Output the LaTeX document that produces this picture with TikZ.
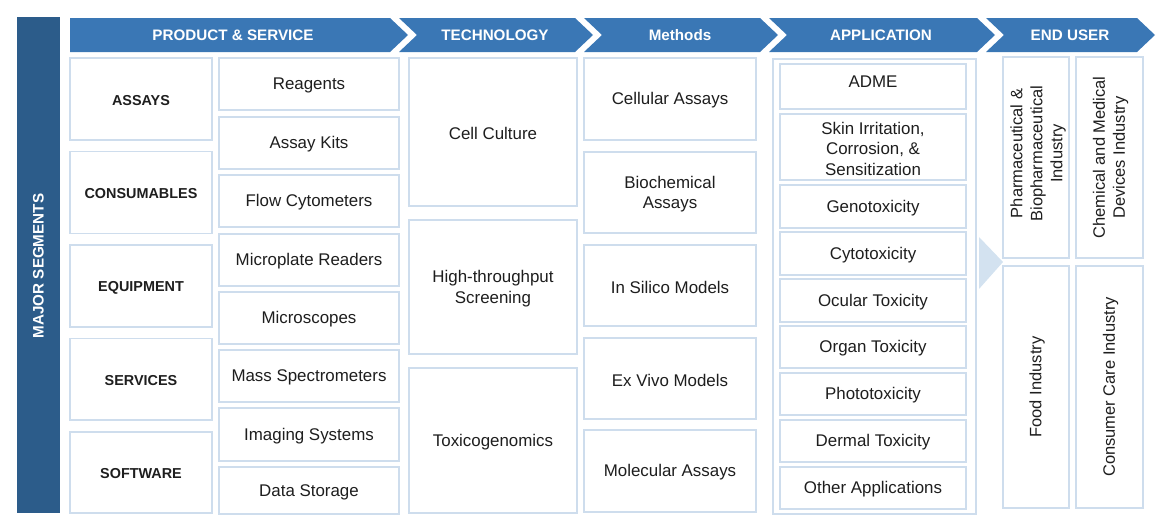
\documentclass[tikz,border=0pt]{standalone}
\usepackage{fontspec}
\setmainfont{Liberation Sans}
\definecolor{hdr}{HTML}{3A77B5}
\definecolor{bar}{HTML}{2C5C8A}
\definecolor{bord}{HTML}{CEDDED}
\definecolor{tri}{HTML}{D3E2F0}
\definecolor{txt}{HTML}{1E1E1E}
\tikzset{
  box/.style={draw=bord, line width=1.3pt, fill=white, inner sep=0pt},
  btext/.style={align=center, text=txt, font=\fontsize{16.9}{20.5}\selectfont},
  cat/.style={font=\fontsize{14.4}{17}\selectfont\bfseries},
  hlabel/.style={text=white, font=\fontsize{15.2}{18}\selectfont\bfseries},
  rlabel/.style={rotate=90, align=center, text=txt, font=\fontsize{16.5}{20}\selectfont}
}
\newcommand\mybox[7][]{%
  \pgfmathsetmacro\bw{#5-#3}\pgfmathsetmacro\bh{#6-#4}%
  \pgfmathsetmacro\cx{(#3+#5)/2}\pgfmathsetmacro\cy{(#4+#6)/2}%
  \node[box,minimum width=\bw pt,minimum height=\bh pt] (#2) at (\cx,\cy) {};
  \node[btext,#1] (#2-t) at ([yshift=-1.5pt]#2.center) {#7};}
\begin{document}
\begin{tikzpicture}[x=1pt,y=-1pt]
\useasboundingbox (0,0) rectangle (1170,530);
% left bar
\fill[bar] (17,17) rectangle (60,513);
\node[hlabel, rotate=90] (major) at (38.5,266) {MAJOR SEGMENTS};
% header chevrons
\fill[hdr] (70,18) -- (390,18) -- (408,35) -- (390,52) -- (70,52) -- cycle;
\node[hlabel] (h1) at (233,35) {PRODUCT \& SERVICE};
\fill[hdr] (399,18) -- (575,18) -- (593,35) -- (575,52) -- (399,52) -- (417,35) -- cycle;
\node[hlabel] (h2) at (495,35) {TECHNOLOGY};
\fill[hdr] (584,18) -- (760,18) -- (778,35) -- (760,52) -- (584,52) -- (602,35) -- cycle;
\node[hlabel] (h3) at (680,35) {Methods};
\fill[hdr] (769,18) -- (977,18) -- (995,35) -- (977,52) -- (769,52) -- (787,35) -- cycle;
\node[hlabel] (h4) at (881,35) {APPLICATION};
\fill[hdr] (986,18) -- (1137,18) -- (1155,35) -- (1137,52) -- (986,52) -- (1004,35) -- cycle;
\node[hlabel] (h5) at (1070,35) {END USER};
% column 1
\mybox[cat]{c1}{70}{58}{212}{140}{ASSAYS}
\mybox[cat]{c2}{70}{151.5}{212}{233.5}{CONSUMABLES}
\mybox[cat]{c3}{70}{245}{212}{327}{EQUIPMENT}
\mybox[cat]{c4}{70}{338.5}{212}{420}{SERVICES}
\mybox[cat]{c5}{70}{432}{212}{513}{SOFTWARE}
% column 2
\mybox{p1}{219}{58}{399}{110}{Reagents}
\mybox{p2}{219}{117}{399}{169}{Assay Kits}
\mybox{p3}{219}{175}{399}{227}{Flow Cytometers}
\mybox{p4}{219}{234}{399}{286}{Microplate Readers}
\mybox{p5}{219}{292}{399}{344}{Microscopes}
\mybox{p6}{219}{350}{399}{402}{Mass Spectrometers}
\mybox{p7}{219}{408}{399}{461}{Imaging Systems}
\mybox{p8}{219}{467}{399}{514}{Data Storage}
% technology
\mybox{t1}{409}{58}{577}{206}{Cell Culture}
\mybox{t2}{409}{220}{577}{354}{High-throughput\\Screening}
\mybox{t3}{409}{368}{577}{513}{Toxicogenomics}
% methods
\mybox{m1}{584}{58}{756}{140}{Cellular Assays}
\mybox{m2}{584}{152}{756}{233}{Biochemical\\Assays}
\mybox{m3}{584}{245}{756}{326}{In Silico Models}
\mybox{m4}{584}{338}{756}{419}{Ex Vivo Models}
\mybox{m5}{584}{430}{756}{512}{Molecular Assays}
% application
\node[box, minimum width=203pt, minimum height=455pt] (aout) at (874.5,286.5) {};
\node[box, minimum width=186pt, minimum height=45pt] (a1) at (873,86.5) {};
\node[btext] (a1t) at ([yshift=5pt]a1.center) {ADME};
\mybox{a2}{780}{114}{966}{180}{Skin Irritation,\\Corrosion, \&\\Sensitization}
\mybox{a3}{780}{185}{966}{228}{Genotoxicity}
\mybox{a4}{780}{232}{966}{275}{Cytotoxicity}
\mybox{a5}{780}{279}{966}{322}{Ocular Toxicity}
\mybox{a6}{780}{326}{966}{368}{Organ Toxicity}
\mybox{a7}{780}{373}{966}{415}{Phototoxicity}
\mybox{a8}{780}{420}{966}{462}{Dermal Toxicity}
\mybox{a9}{780}{467}{966}{509}{Other Applications}
% arrow
\coordinate (ta) at (979,237);
\coordinate (tb) at (1003,262);
\coordinate (tc) at (979,289);
\fill[tri] (ta) -- (tb) -- (tc) -- cycle;
% end user
\node[box, minimum width=66pt, minimum height=201pt] (e1) at (1036,157.5) {};
\node[rlabel] (e1t) at ([xshift=2pt,yshift=4pt]e1.center) {Pharmaceutical \&\\Biopharmaceutical\\Industry};
\node[box, minimum width=67pt, minimum height=201pt] (e2) at (1109.5,157.5) {};
\node[rlabel] (e2t) at ([xshift=1pt]e2.center) {Chemical and Medical\\Devices Industry};
\node[box, minimum width=66pt, minimum height=242pt] (e3) at (1036,387) {};
\node[rlabel] (e3t) at ([xshift=1pt]e3.center) {Food Industry};
\node[box, minimum width=67pt, minimum height=242pt] (e4) at (1109.5,387) {};
\node[rlabel] (e4t) at ([xshift=1pt]e4.center) {Consumer Care Industry};
\end{tikzpicture}
\end{document}
